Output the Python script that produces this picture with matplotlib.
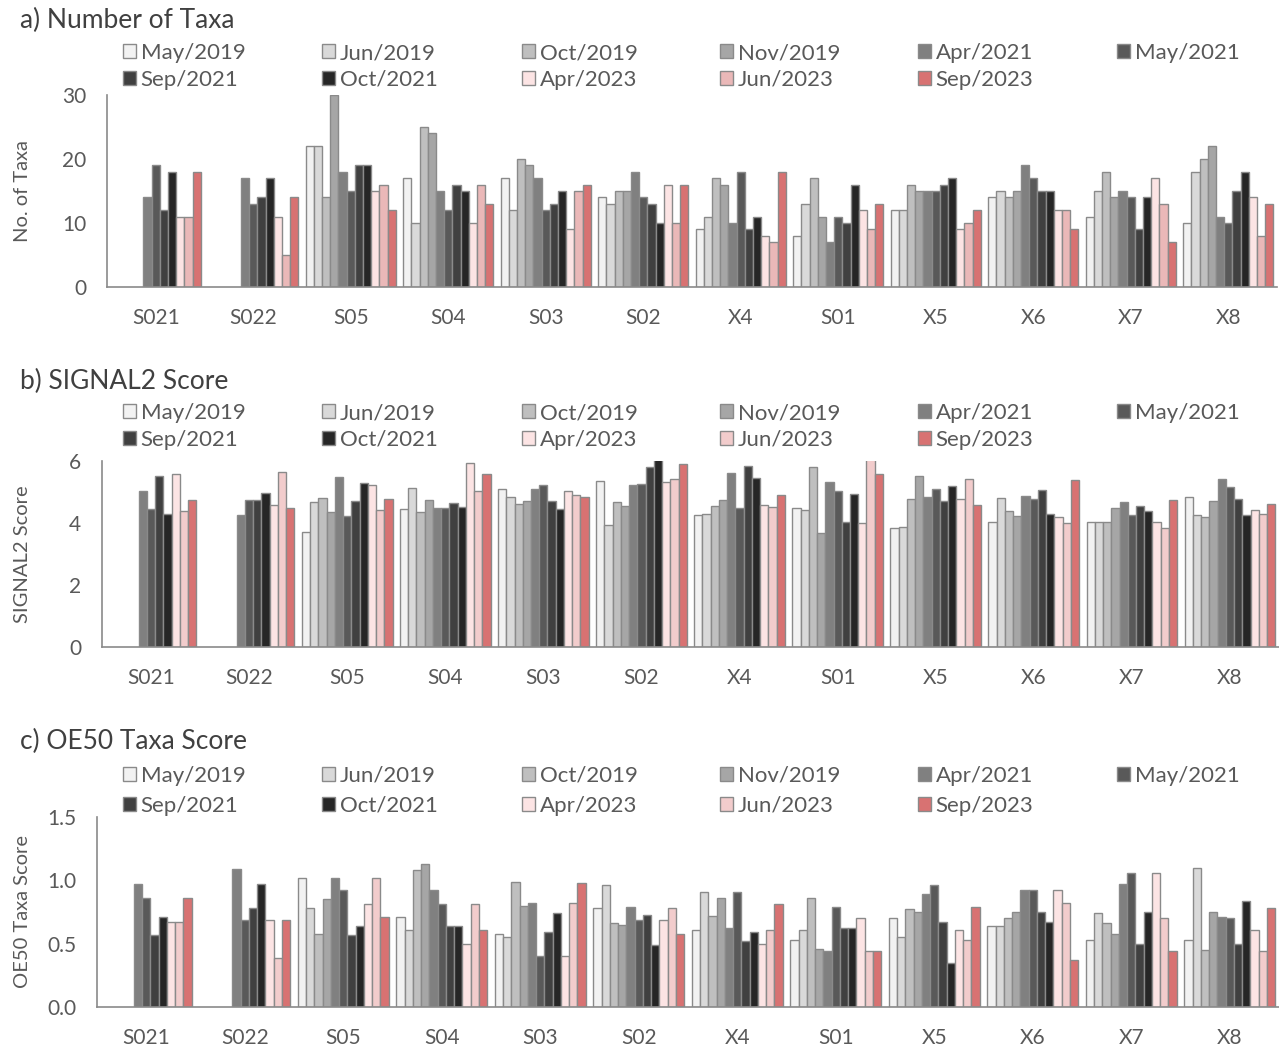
import numpy as np
import matplotlib.pyplot as plt

plt.rcParams['font.family'] = ['Lato', 'DejaVu Sans']

# Data
# -----------------------------
sites = ["S021", "S022", "S05", "S04", "S03", "S02", "X4", "S01", "X5", "X6", "X7", "X8"]
dates = ["May/2019", "Jun/2019", "Oct/2019", "Nov/2019", "Apr/2021", "May/2021",
         "Sep/2021", "Oct/2021", "Apr/2023", "Jun/2023", "Sep/2023"]
colors = ["#f2f2f2", "#d9d9d9", "#bfbfbf", "#a6a6a6", "#808080", "#595959",
          "#404040", "#262626", "#fce4e4", "#eab8b8", "#d87272"]

n = np.nan
# rows = sites, columns = dates
taxa = [
    [n, n, n, n, 14, 19, 12, 18, 11, 11, 18],
    [n, n, n, n, 17, 13, 14, 17, 11, 5, 14],
    [22, 22, 14, 30, 18, 15, 19, 19, 15, 16, 12],
    [17, 10, 25, 24, 15, 12, 16, 15, 10, 16, 13],
    [17, 12, 20, 19, 17, 12, 13, 15, 9, 15, 16],
    [14, 13, 15, 15, 18, 14, 13, 10, 16, 10, 16],
    [9, 11, 17, 16, 10, 18, 9, 11, 8, 7, 18],
    [8, 13, 17, 11, 7, 11, 10, 16, 12, 9, 13],
    [12, 12, 16, 15, 15, 15, 16, 17, 9, 10, 12],
    [14, 15, 14, 15, 19, 17, 15, 15, 12, 12, 9],
    [11, 15, 18, 14, 15, 14, 9, 14, 17, 13, 7],
    [10, 18, 20, 22, 11, 10, 15, 18, 14, 8, 13],
]

signal2 = [
    [n, n, n, n, 5.04, 4.44, 5.52, 4.30, 5.58, 4.39, 4.73],
    [n, n, n, n, 4.27, 4.75, 4.73, 4.98, 4.57, 5.65, 4.48],
    [3.72, 4.68, 4.81, 4.37, 5.49, 4.23, 4.71, 5.28, 5.24, 4.42, 4.78],
    [4.46, 5.14, 4.37, 4.74, 4.47, 4.49, 4.63, 4.52, 5.92, 5.03, 5.57],
    [5.10, 4.84, 4.62, 4.71, 5.10, 5.24, 4.70, 4.44, 5.03, 4.89, 4.85],
    [5.35, 3.95, 4.69, 4.54, 5.23, 5.27, 5.82, 6.10, 5.32, 5.43, 5.91],
    [4.25, 4.28, 4.56, 4.73, 5.60, 4.47, 5.83, 5.45, 4.59, 4.53, 4.91],
    [4.48, 4.41, 5.80, 3.69, 5.33, 5.02, 4.03, 4.92, 4.01, 6.10, 5.58],
    [3.84, 3.86, 4.77, 5.51, 4.84, 5.10, 4.71, 5.18, 4.79, 5.43, 4.57],
    [4.02, 4.82, 4.39, 4.23, 4.87, 4.76, 5.05, 4.30, 4.20, 4.01, 5.39],
    [4.02, 4.02, 4.02, 4.49, 4.67, 4.26, 4.54, 4.40, 4.02, 3.85, 4.75],
    [4.84, 4.26, 4.20, 4.72, 5.42, 5.16, 4.76, 4.26, 4.42, 4.28, 4.61],
]

oe50 = [
    [n, n, n, n, 0.97, 0.86, 0.57, 0.71, 0.67, 0.67, 0.86],
    [n, n, n, n, 1.09, 0.69, 0.78, 0.97, 0.69, 0.39, 0.69],
    [1.02, 0.78, 0.58, 0.85, 1.02, 0.92, 0.57, 0.64, 0.81, 1.02, 0.71],
    [0.71, 0.61, 1.08, 1.13, 0.92, 0.81, 0.64, 0.64, 0.50, 0.81, 0.61],
    [0.58, 0.55, 0.99, 0.80, 0.82, 0.40, 0.59, 0.74, 0.40, 0.82, 0.98],
    [0.78, 0.96, 0.66, 0.65, 0.79, 0.69, 0.73, 0.49, 0.69, 0.78, 0.58],
    [0.61, 0.91, 0.72, 0.86, 0.62, 0.91, 0.52, 0.59, 0.50, 0.61, 0.81],
    [0.53, 0.61, 0.86, 0.46, 0.44, 0.79, 0.62, 0.62, 0.70, 0.44, 0.44],
    [0.70, 0.55, 0.77, 0.75, 0.89, 0.96, 0.67, 0.35, 0.61, 0.53, 0.79],
    [0.64, 0.64, 0.70, 0.75, 0.92, 0.92, 0.75, 0.67, 0.92, 0.82, 0.37],
    [0.53, 0.74, 0.66, 0.58, 0.97, 1.06, 0.50, 0.75, 1.06, 0.70, 0.44],
    [0.53, 1.10, 0.45, 0.75, 0.71, 0.70, 0.50, 0.84, 0.61, 0.44, 0.78],
]

# Plot
# -----------------------------
W, H = 1279, 1048
fig = plt.figure(figsize=(W / 100, H / 100), dpi=100)

text_col = "#595959"
edge_col = "#8a8a8a"
leg_x = [123, 322, 522, 720, 918, 1117]   # legend column starts (px)

panels = [
    # title, ylabel, data, yticks, fmt, (left, right, bottom, top) px, title y, legend rows y, Jun/2023 colour
    ("a) Number of Taxa", "No. of Taxa", taxa, [0, 10, 20, 30], "{:.0f}",
     (107, 1277, 287, 95), 20, (53, 80), "#eab8b8"),
    ("b) SIGNAL2 Score", "SIGNAL2 Score", signal2, [0, 2, 4, 6], "{:.0f}",
     (102, 1279, 647, 461), 381, (413, 440), "#f2cccc"),
    ("c) OE50 Taxa Score", "OE50 Taxa Score", oe50, [0, 0.5, 1.0, 1.5], "{:.1f}",
     (97, 1279, 1007, 817), 741, (776, 806), "#f2cccc"),
]

x = np.arange(len(sites))
bw = 0.084

for title, ylabel, data, yticks, fmt, box, ty, rows_y, jun23 in panels:
    l, r, b, t = box
    ax = fig.add_axes([l / W, 1 - b / H, (r - l) / W, (b - t) / H])
    vals = np.array(data, dtype=float)
    cols = list(colors)
    cols[9] = jun23
    handles = []
    for j, d in enumerate(dates):
        offs = (j - (len(dates) - 1) / 2) * bw
        h = ax.bar(x + offs, vals[:, j], width=bw, color=cols[j],
                   edgecolor=edge_col, linewidth=1.0, label=d)
        handles.append(h)
    ax.set_xlim(-0.5, len(sites) - 0.5)
    ax.set_ylim(yticks[0], yticks[-1])
    ax.set_yticks(yticks)
    ax.set_yticklabels([fmt.format(v) for v in yticks])
    ax.set_xticks(x)
    ax.set_xticklabels(sites)
    ax.tick_params(length=0, labelsize=15, colors=text_col)
    ax.tick_params(axis="x", pad=15)
    ax.tick_params(axis="y", pad=15)
    for s in ["top", "right"]:
        ax.spines[s].set_visible(False)
    for s in ["left", "bottom"]:
        ax.spines[s].set_color(edge_col)
        ax.spines[s].set_linewidth(1.2)
    ax.set_ylabel(ylabel, fontsize=14.5, color=text_col)
    ax.yaxis.set_label_coords(-(l - 31) / (r - l), 0.5)

    fig.text(20 / W, 1 - ty / H, title, fontsize=19, color="#404040", va="center", ha="left")

    # legend: one entry per slot, laid out row-wise like the original
    for j, d in enumerate(dates):
        row, col = divmod(j, 6)
        leg = fig.legend([handles[j]], [d], loc="center left",
                         bbox_to_anchor=(leg_x[col] / W, 1 - rows_y[row] / H),
                         frameon=False, fontsize=16, handlelength=0.6, handleheight=0.6,
                         handletextpad=0.2, borderaxespad=0, borderpad=0)
        for txt in leg.get_texts():
            txt.set_color(text_col)

fig.savefig("out.png", dpi=100)
